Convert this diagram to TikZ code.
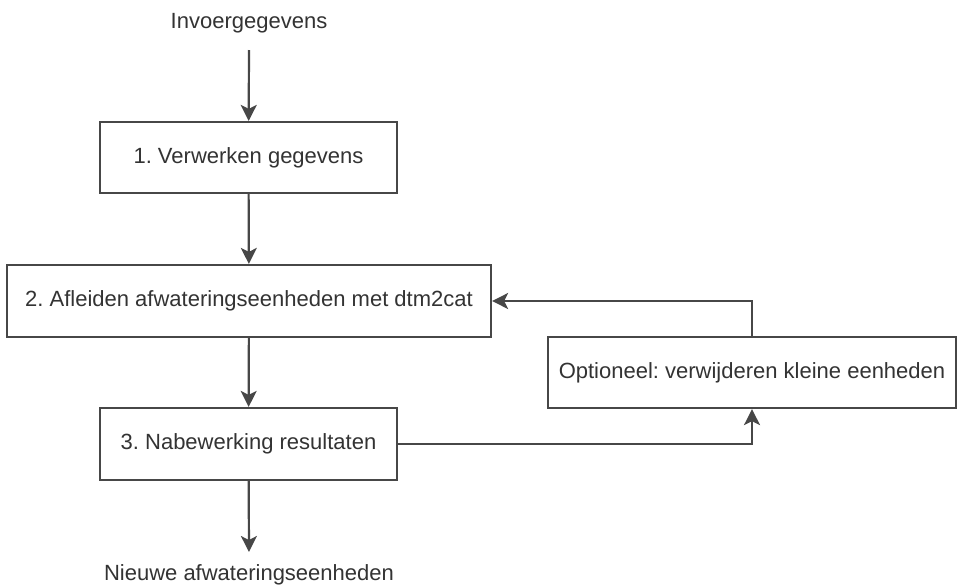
\documentclass[tikz,border=0pt]{standalone}
\usepackage{fontspec}
\setmainfont{Liberation Sans}
\usetikzlibrary{arrows.meta}
\definecolor{ln}{HTML}{474747}
\definecolor{tx}{HTML}{333333}
\frenchspacing
\begin{document}
\begin{tikzpicture}[x=1pt,y=-1pt,
  box/.style={draw=ln,line width=2.2pt,fill=white,inner sep=0pt,text=tx,font=\fontsize{22}{26}\selectfont},
  lbl/.style={inner sep=0pt,text=tx,font=\fontsize{22}{26}\selectfont},
  arr/.style={draw=ln,line width=2.2pt,-{Stealth[length=16pt,width=16pt,inset=4pt]}}]
\useasboundingbox[fill=white] (0,0) rectangle (958,587);
\node[lbl] (in) at (249,23) {Invoergegevens};
\coordinate (inA) at (249,50);
\node[box,minimum width=297pt,minimum height=71pt] (b1) at (248.5,157.5) {1. Verwerken gegevens};
\node[box,minimum width=484pt,minimum height=72pt] (b2) at (249,301) {2. Afleiden afwateringseenheden met dtm2cat};
\node[box,minimum width=297pt,minimum height=72pt] (b3) at (248.5,444) {3. Nabewerking resultaten};
\node[box,minimum width=408pt,minimum height=71pt] (opt) at (752,372.5) {Optioneel: verwijderen kleine eenheden};
\coordinate (outA) at (249,552);
\node[lbl] (out) at (249,575) {Nieuwe afwateringseenheden};
\draw[arr] (inA) -- (b1);
\draw[arr] (b1) -- (b2);
\draw[arr] (b2) -- (b3);
\draw[arr] (b3) -- (outA);
\draw[arr] (b3.east) -| (opt.south);
\draw[arr] (opt.north) |- (b2.east);
\end{tikzpicture}
\end{document}
